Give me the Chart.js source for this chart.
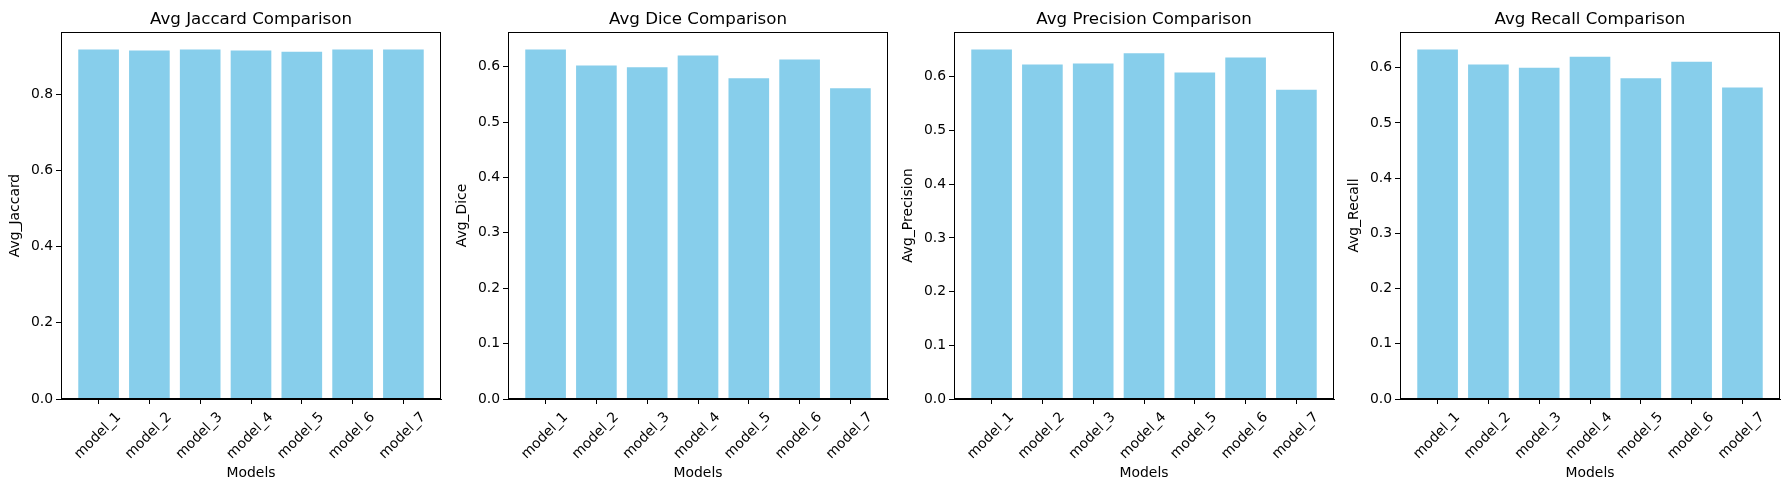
<!DOCTYPE html>
<html><head><meta charset="utf-8">
<script src="https://cdn.jsdelivr.net/npm/chart.js@4"></script>
<style>
html,body{margin:0;padding:0;background:#fff;width:1790px;height:490px;overflow:hidden;}
.p{position:absolute;top:0;width:446px;height:490px;}
</style></head><body>
<div class="p" style="left:1px"><canvas id="c0" width="446" height="490"></canvas></div>
<div class="p" style="left:448px"><canvas id="c1" width="446" height="490"></canvas></div>
<div class="p" style="left:894px"><canvas id="c2" width="446" height="490"></canvas></div>
<div class="p" style="left:1340px"><canvas id="c3" width="446" height="490"></canvas></div>
<script>
const models = ['model_1','model_2','model_3','model_4','model_5','model_6','model_7'];
const jaccardValues   = [0.917, 0.914, 0.917, 0.914, 0.911, 0.917, 0.917];
const diceValues      = [0.631, 0.602, 0.599, 0.620, 0.579, 0.613, 0.561];
const precisionValues = [0.651, 0.623, 0.625, 0.644, 0.608, 0.636, 0.576];
const recallValues    = [0.633, 0.606, 0.600, 0.620, 0.581, 0.611, 0.564];
const jaccardTicks = [0.0, 0.2, 0.4, 0.6, 0.8];
const metricTicks  = [0.0, 0.1, 0.2, 0.3, 0.4, 0.5, 0.6];
const chartTitles = ['Avg Jaccard Comparison','Avg Dice Comparison','Avg Precision Comparison','Avg Recall Comparison'];
const yTitles = ['Avg_Jaccard','Avg_Dice','Avg_Precision','Avg_Recall'];
const xTitle = 'Models';

Chart.defaults.font.family = 'DejaVu Sans';
Chart.defaults.font.size = 13.9;
Chart.defaults.color = '#000';
Chart.defaults.animation = false;

const framePlugin = {
  id: 'frame',
  afterDatasetsDraw(chart) {
    const {ctx, chartArea: a} = chart;
    ctx.save();
    ctx.strokeStyle = '#000';
    ctx.lineWidth = 1;
    const l = Math.round(a.left) + 0.5, t = Math.round(a.top) + 0.5;
    const r = Math.round(a.right) - 0.5, b = Math.round(a.bottom) - 0.5;
    ctx.strokeRect(l, t, r - l, b - t);
    ctx.restore();
  }
};

function makeChart(id, values, ticks, title, yTitle) {
  const n = models.length;
  const xMargin = 0.05 * (n - 1 + 0.8);
  new Chart(document.getElementById(id), {
    type: 'bar',
    data: {
      datasets: [{
        data: models.map((m, i) => ({x: i, y: values[i]})),
        backgroundColor: '#87CEEB',
        borderWidth: 0,
        categoryPercentage: 1.0,
        barPercentage: 0.8
      }]
    },
    options: {
      responsive: false,
      devicePixelRatio: 1,
      layout: {padding: {left: 0, right: 6, top: 0, bottom: 0}},
      plugins: {
        legend: {display: false},
        tooltip: {enabled: false},
        title: {
          display: true, text: title, color: '#000', fullSize: false,
          font: {size: 16.67, weight: 'normal'},
          padding: {top: 10, bottom: 2}
        }
      },
      scales: {
        x: {
          type: 'linear',
          offset: false,
          min: -0.4 - xMargin,
          max: n - 1 + 0.4 + xMargin,
          afterBuildTicks(s) { s.ticks = models.map((m, i) => ({value: i})); },
          afterFit(s) { s.height = 91; },
          grid: {offset: false, drawOnChartArea: false, drawTicks: true, tickLength: 5, color: '#000', tickColor: '#000', tickWidth: 1},
          border: {display: true, color: '#000', width: 1},
          ticks: {
            autoSkip: false, minRotation: 45, maxRotation: 45,
            padding: 5, labelOffset: 20, color: '#000',
            callback: (v) => models[v]
          },
          title: {display: true, text: xTitle, color: '#000', font: {size: 13.9}, padding: {top: 0, bottom: 8}}
        },
        y: {
          type: 'linear',
          min: 0,
          max: Math.max(...values) * 1.05,
          afterBuildTicks(s) { s.ticks = ticks.map(v => ({value: v})); },
          afterFit(s) { s.width = 60; },
          grid: {drawOnChartArea: false, drawTicks: true, tickLength: 5, color: '#000', tickColor: '#000', tickWidth: 1},
          border: {display: true, color: '#000', width: 1},
          ticks: {padding: 3, color: '#000', callback: (v) => Number(v).toFixed(1)},
          title: {display: true, text: yTitle, color: '#000', font: {size: 13.9}, padding: {top: 6, bottom: 0}}
        }
      }
    },
    plugins: [framePlugin]
  });
}

makeChart('c0', jaccardValues, jaccardTicks, chartTitles[0], yTitles[0]);
makeChart('c1', diceValues, metricTicks, chartTitles[1], yTitles[1]);
makeChart('c2', precisionValues, metricTicks, chartTitles[2], yTitles[2]);
makeChart('c3', recallValues, metricTicks, chartTitles[3], yTitles[3]);
</script>
</body></html>
